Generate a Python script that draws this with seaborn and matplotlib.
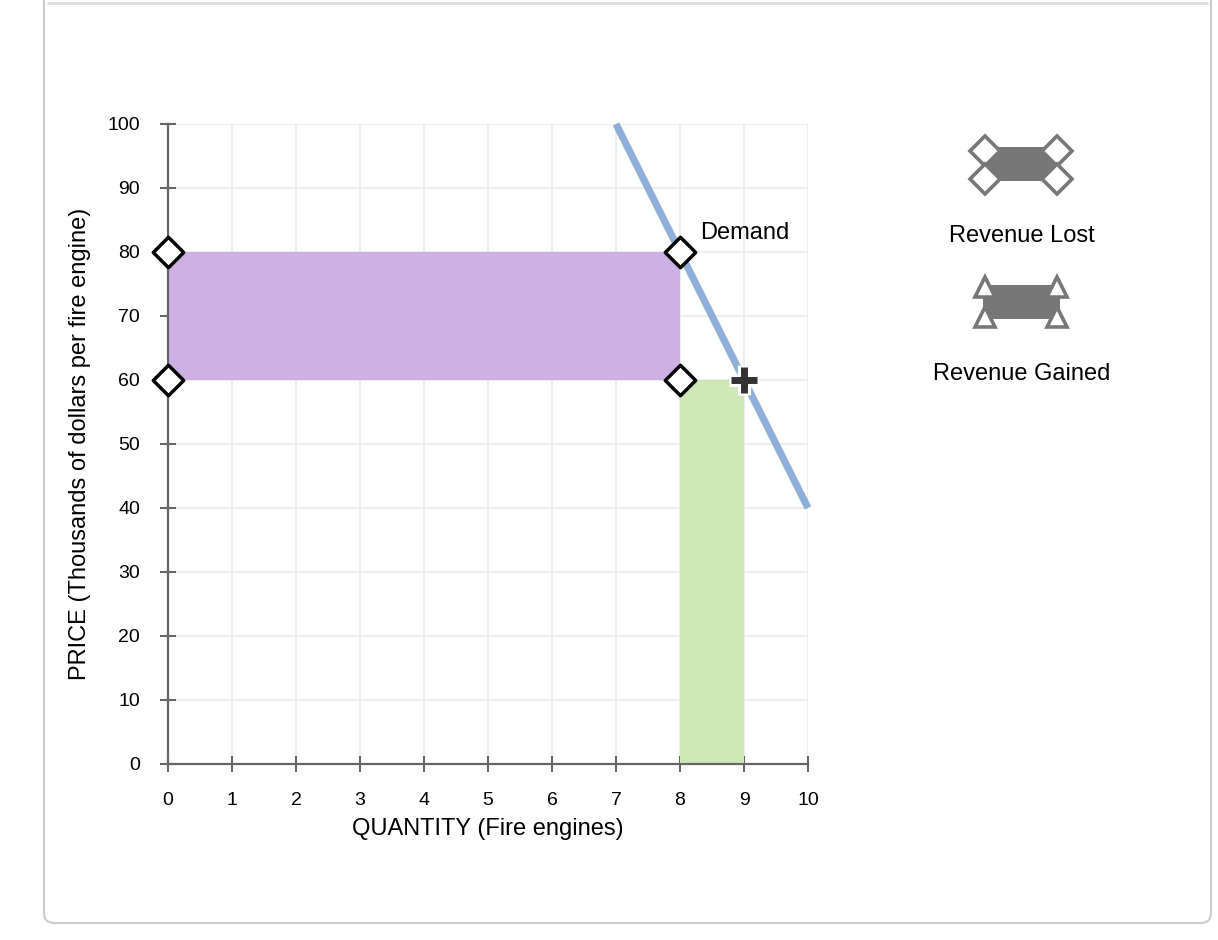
import matplotlib
matplotlib.use("Agg")
import matplotlib.pyplot as plt
import seaborn as sns
import pandas as pd
from matplotlib.patches import FancyBboxPatch, Rectangle

# Chart values.
demand_qty = [7, 10]
demand_price = [100, 40]
old_price = 80
new_price = 60
old_qty = 8
new_qty = 9
corner_qty = [0, 0, 8, 8]
corner_price = [80, 60, 80, 60]
x_ticks = list(range(0, 11))
y_ticks = list(range(0, 101, 10))
legend_labels = ['Revenue Lost', 'Revenue Gained']

sns.set_theme(style="white")
plt.rcParams['font.family'] = ['Liberation Sans', 'DejaVu Sans']
plt.rcParams['text.color'] = 'black'
plt.rcParams['axes.labelcolor'] = 'black'

fig = plt.figure(figsize=(12.18, 9.4), dpi=100)
ax = fig.add_axes([168 / 1218, 1 - 764 / 940, 640 / 1218, 640 / 940])

# Shaded areas.
ax.fill_between([0, old_qty], new_price, old_price, color='#cfb0e4', lw=0, zorder=1)
ax.fill_between([old_qty, new_qty], 0, new_price, color='#cfe8b8', lw=0, zorder=1)

# Demand curve.
df = pd.DataFrame({'qty': demand_qty, 'price': demand_price})
sns.lineplot(data=df, x='qty', y='price', ax=ax, color='#8eb0d8', lw=5.2,
             zorder=3, clip_on=False, solid_capstyle='butt')
ax.text(8.32, 83, 'Demand', fontsize=17, va='center', ha='left', zorder=5)

# Corner points.
pts = pd.DataFrame({'qty': corner_qty, 'price': corner_price})
sns.scatterplot(data=pts, x='qty', y='price', ax=ax, marker='D', s=240,
                facecolor='white', edgecolor='black', linewidth=2.5,
                zorder=6, clip_on=False)
ax.plot([new_qty], [new_price], marker='+', ms=22, mew=9.5, color='white',
        zorder=6, clip_on=False)
ax.plot([new_qty], [new_price], marker='+', ms=19, mew=5, color='#333333',
        zorder=7, clip_on=False)

ax.set_xlim(0, 10)
ax.set_ylim(0, 100)
ax.set_xticks(x_ticks)
ax.set_yticks(y_ticks)
ax.grid(True, color='#ebebeb', lw=1.2, zorder=0)
ax.set_axisbelow(True)
for side in ['top', 'right']:
    ax.spines[side].set_visible(False)
for side in ['left', 'bottom']:
    ax.spines[side].set_color('#666666')
    ax.spines[side].set_linewidth(1.6)
ax.tick_params(direction='inout', length=12, width=1.5, color='#666666',
               labelsize=14, labelcolor='black', pad=14, bottom=True, left=True)
ax.set_xlabel('QUANTITY (Fire engines)', fontsize=17, labelpad=7)
ax.set_ylabel('PRICE (Thousands of dollars per fire engine)', fontsize=17, labelpad=12)

# Overlay in pixel coordinates for the frame and the legend icons.
ov = fig.add_axes([0, 0, 1, 1], zorder=-1)
ov.set_xlim(0, 1218)
ov.set_ylim(940, 0)
ov.axis('off')
ov.patch.set_alpha(0)
ov.add_patch(FancyBboxPatch((44, -30), 1167, 953, boxstyle='round,pad=0,rounding_size=10',
                            fc='none', ec='#cccccc', lw=1.5))
ov.plot([48, 1207], [3, 3], color='#dddddd', lw=2)

ov2 = fig.add_axes([0, 0, 1, 1], zorder=5)
ov2.set_xlim(0, 1218)
ov2.set_ylim(940, 0)
ov2.axis('off')
ov2.patch.set_alpha(0)
icon_y = [164, 302]
markers = ['D', '^']
for cy, mk, label in zip(icon_y, markers, legend_labels):
    ov2.add_patch(Rectangle((983, cy - 17), 77, 34, color='#777777', lw=0))
    if mk == 'D':
        ys = [cy - 13, cy + 15]
        ms = 15
    else:
        ys = [cy - 15, cy + 15]
        ms = 15
    for yy in ys:
        ov2.plot([985, 1057], [yy, yy], ls='none', marker=mk, ms=ms, mfc='white',
                 mec='#777777', mew=2.6)
    ov2.text(1022, cy + 72, label, fontsize=17, ha='center', va='center')

fig.savefig('out.png', dpi=100)
